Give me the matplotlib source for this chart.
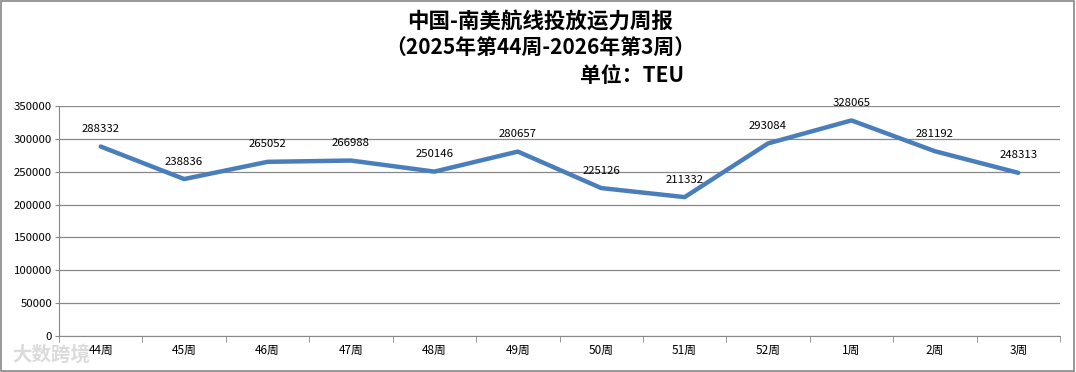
import matplotlib.pyplot as plt
import numpy as np

plt.rcParams['font.family'] = ['Noto Sans CJK SC', 'DejaVu Sans']

weeks = ["44周", "45周", "46周", "47周", "48周", "49周", "50周", "51周", "52周", "1周", "2周", "3周"]
capacity = [288332, 238836, 265052, 266988, 250146, 280657, 225126, 211332, 293084, 328065, 281192, 248313]

fig = plt.figure(figsize=(10.76, 3.72), dpi=100)
ax = fig.add_axes([59/1076, 1 - 336/372, (1060 - 59)/1076, (336 - 106)/372])

x = np.arange(len(weeks))
ax.plot(x, capacity, color='#4a7ebb', linewidth=3.2, solid_capstyle='round', zorder=3)
for xi, v in zip(x, capacity):
	ax.annotate(str(v), (xi, v), xytext=(0, 9), textcoords='offset points',
		ha='center', va='bottom', fontsize=8.2, color='black')

ax.set_xlim(-0.5, len(weeks) - 0.5)
ax.set_ylim(0, 350000)
ax.set_yticks(np.arange(0, 350001, 50000))
ax.set_yticklabels([str(t) for t in range(0, 350001, 50000)], fontsize=8.2)
ax.set_xticks(x)
ax.set_xticklabels(weeks, fontsize=8.5)
ax.set_xticks(np.arange(-0.5, len(weeks)), minor=True)
ax.tick_params(axis='x', which='major', length=0, pad=6)
ax.tick_params(axis='x', which='minor', length=4, color='#888888', direction='out')
ax.tick_params(axis='y', length=3, color='#888888', pad=2)
ax.grid(axis='y', color='#888888', linewidth=0.9)
ax.set_axisbelow(True)
for s in ['top', 'right']:
	ax.spines[s].set_visible(False)
for s in ['left', 'bottom']:
	ax.spines[s].set_color('#888888')

fig.text(0.502, 1 - 22/372, "中国-南美航线投放运力周报", ha='center', va='center',
	fontsize=15.5, fontweight='bold')
fig.text(0.502, 1 - 48/372, "（2025年第44周-2026年第3周）", ha='center', va='center',
	fontsize=15, fontweight='bold')
fig.text(684/1076, 1 - 75/372, "单位：TEU", ha='right', va='center',
	fontsize=15, fontweight='bold')

# watermark
fig.text(12/1076, 1 - 355/372, "大数跨境", ha='left', va='center', fontsize=14,
	color='#cccccc', alpha=0.7, fontweight='bold')

fig.patches.append(plt.Rectangle((0.001, 0.002), 0.997, 0.995, transform=fig.transFigure,
	fill=False, edgecolor='#888888', linewidth=1.2))

fig.savefig("out.png", dpi=100)
